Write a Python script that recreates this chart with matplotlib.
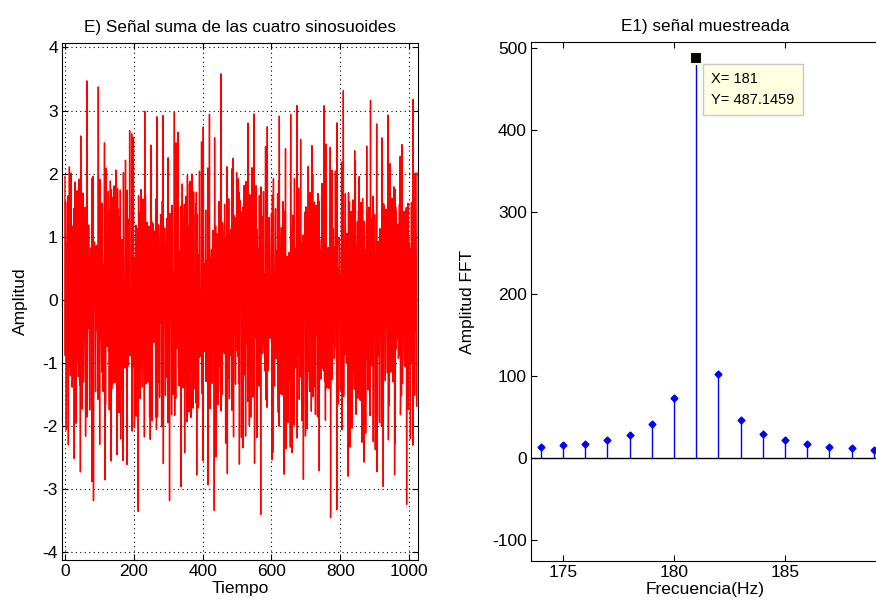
import numpy as np
import matplotlib.pyplot as plt

plt.rcParams['font.family'] = ['Liberation Sans', 'DejaVu Sans']
plt.rcParams['font.size'] = 12.5
plt.rcParams['axes.unicode_minus'] = False

# four sinusoids (freq in Hz, fs = 1024 samples/s), amplitude, phase
n_samples = 1024
fs = 1024.0
sin_freqs = [181.3, 402.7, 463.4, 347.9]
sin_amps = [1.0, 1.0, 0.95, 0.8]
sin_phases = [0.0, 0.7, 1.9, 2.6]

# FFT magnitude around the 181 Hz peak
fft_freqs = [174, 175, 176, 177, 178, 179, 180, 181, 182, 183, 184, 185, 186, 187, 188, 189]
fft_mags = [13.7, 15.7, 17.3, 22.2, 27.4, 41, 73.4, 487.1459, 102, 46, 29, 22.2, 17.3, 13.7, 12.1, 10]

t = np.arange(n_samples)
signal = np.zeros(n_samples)
for f, a, p in zip(sin_freqs, sin_amps, sin_phases):
    signal += a * np.sin(2 * np.pi * f * t / fs + p)

W, H = 876, 610
fig = plt.figure(figsize=(W / 100, H / 100), dpi=100)

# left panel
ax1 = fig.add_axes([62 / W, (H - 560) / H, (418 - 62) / W, (560 - 43) / H])
ax1.plot(t, signal, color='red', lw=1.0)
ax1.set_xlim(-8.5, 1026)
ax1.set_ylim(-4.12, 4.07)
ax1.set_xticks([0, 200, 400, 600, 800, 1000])
ax1.set_yticks([-4, -3, -2, -1, 0, 1, 2, 3, 4])
ax1.grid(True, color='black', linestyle=(0, (1, 3)), lw=0.8)
ax1.tick_params(direction='in', top=True, right=True, length=4, pad=3)
ax1.set_title('E) Señal suma de las cuatro sinosuoides', fontsize=12.3, pad=8)
ax1.set_xlabel('Tiempo', labelpad=1)
ax1.set_ylabel('Amplitud', labelpad=10)

# right panel
x0, x1 = 173.56, 189.28
ax2 = fig.add_axes([531 / W, (H - 561) / H, (880 - 531) / W, (561 - 42) / H])
ax2.axhline(0, color='black', lw=1)
ax2.vlines(fft_freqs, 0, fft_mags, color='blue', lw=1)
ax2.plot(fft_freqs, fft_mags, 'D', color='blue', ms=3.5)
ax2.set_xlim(x0, x1)
ax2.set_ylim(-125.6, 507)
ax2.set_xticks([175, 180, 185])
ax2.set_yticks([-100, 0, 100, 200, 300, 400, 500])
ax2.tick_params(direction='in', top=True, length=4, pad=3)
ax2.spines['right'].set_visible(False)
ax2.set_title('E1) señal muestreada', fontsize=12.3, pad=8)
ax2.set_xlabel('Frecuencia(Hz)', labelpad=1)
ax2.set_ylabel('Amplitud FFT', labelpad=12)

# data tip
peak = int(np.argmax(fft_mags))
ax2.plot(fft_freqs[peak], fft_mags[peak], 's', color='black', ms=8,
         markeredgecolor='#ffffe1', markeredgewidth=1.5)
ax2.annotate('X= %d\nY= %.4f' % (fft_freqs[peak], fft_mags[peak]),
             xy=(fft_freqs[peak], fft_mags[peak]), xytext=(11, -10),
             textcoords='offset points', va='top', ha='left', fontsize=10.5,
             linespacing=1.6,
             bbox=dict(boxstyle='square,pad=0.55', fc='#ffffe1', ec='#c8c8c8', lw=1))

fig.savefig('out.png', dpi=100)
